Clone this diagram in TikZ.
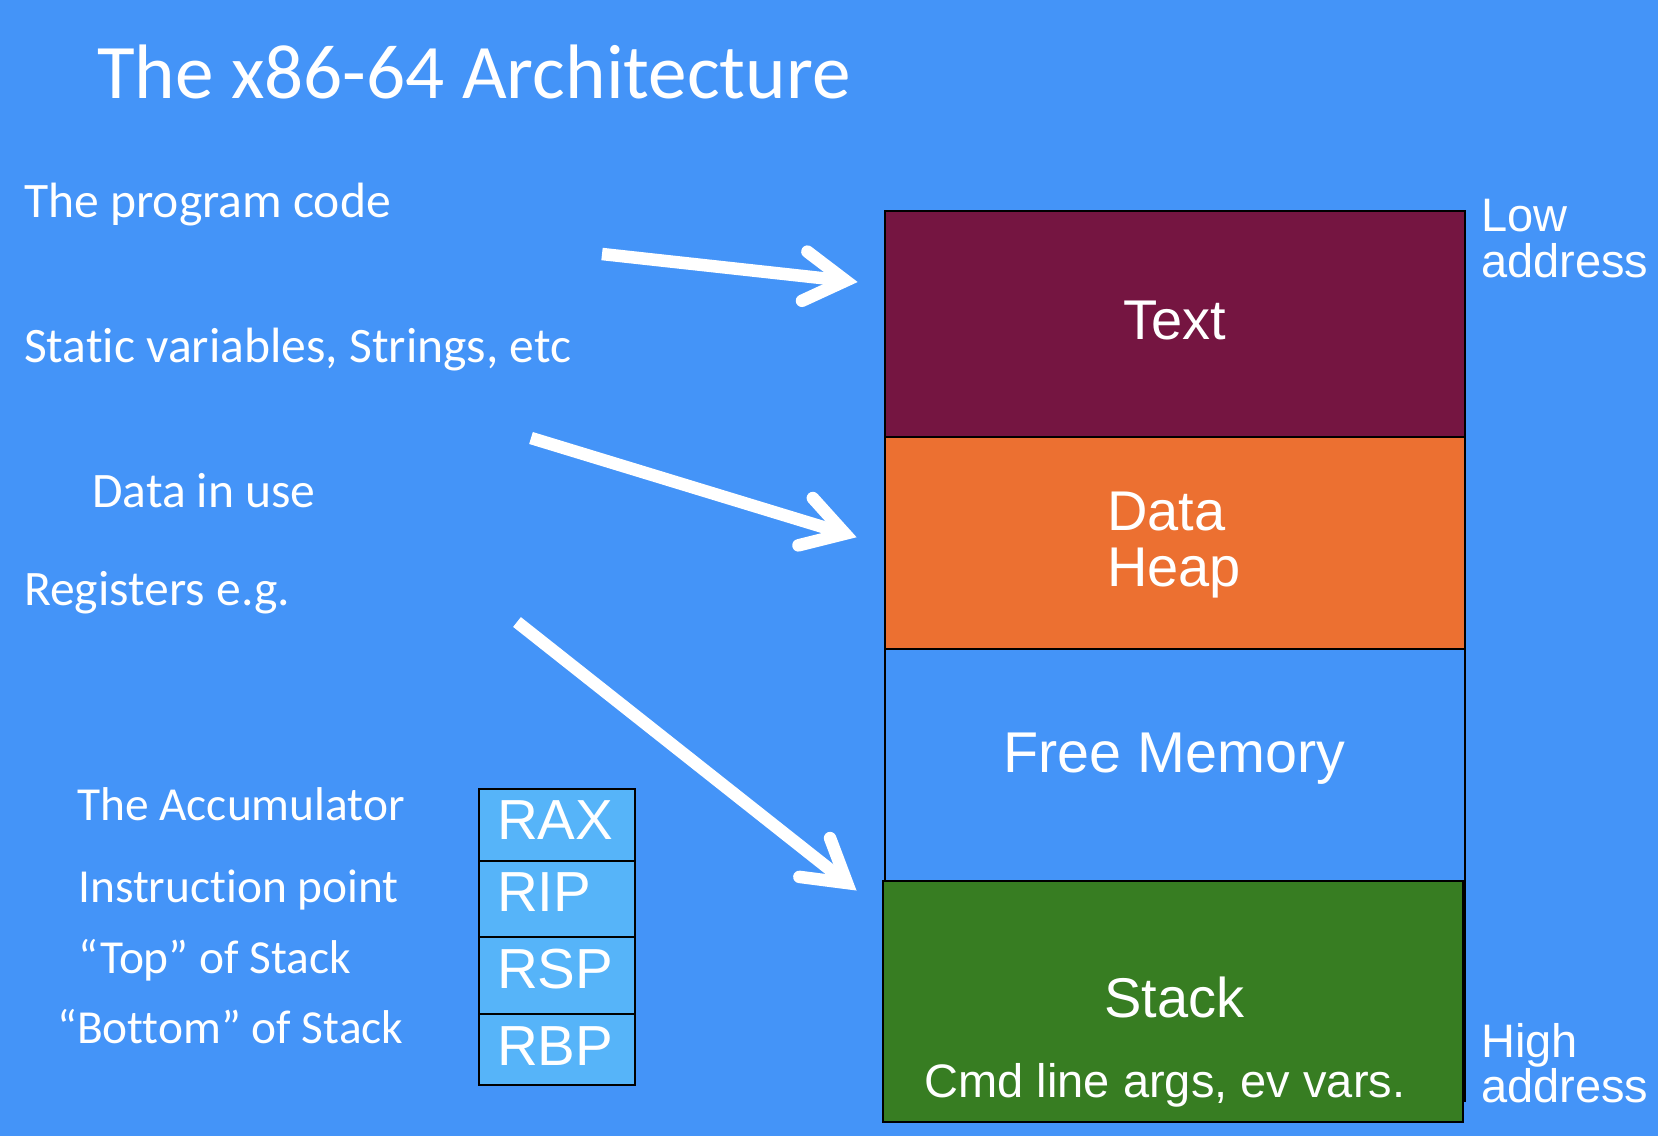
\documentclass[tikz,border=0pt]{standalone}
\usepackage{fontspec}
\setmainfont{Carlito}[Ligatures=NoCommon]
\newfontfamily\arialfont{Liberation Sans}
\usetikzlibrary{calc}

\definecolor{slidebg}{HTML}{4494F8}
\definecolor{textseg}{HTML}{751541}
\definecolor{dataseg}{HTML}{EC7031}
\definecolor{freeseg}{HTML}{4494F8}
\definecolor{stackseg}{HTML}{377D22}
\definecolor{regblue}{HTML}{56B4F9}

\tikzset{
  segbox/.style={draw=black, line width=2pt, anchor=north west, inner sep=0pt, outer sep=0pt},
  regbox/.style={draw=black, line width=2pt, fill=regblue, anchor=north west,
                 inner sep=0pt, outer sep=0pt, minimum width=156pt},
  titlelbl/.style={text=white, inner sep=0pt, anchor=base west, font=\fontsize{77.2pt}{92pt}\selectfont},
  leftlbl/.style={text=white, inner sep=0pt, anchor=base west, font=\fontsize{49.6pt}{60pt}\selectfont},
  reglist/.style={text=white, inner sep=0pt, anchor=base west, font=\fontsize{47.4pt}{57pt}\selectfont},
  seglbl/.style={text=white, inner sep=0pt, anchor=base, font=\arialfont\fontsize{56pt}{67pt}\selectfont},
  seglblw/.style={seglbl, anchor=base west},
  smalllbl/.style={text=white, inner sep=0pt, anchor=base, font=\arialfont\fontsize{47pt}{56pt}\selectfont},
  addrlbl/.style={smalllbl, anchor=base west},
  reglbl/.style={text=white, inner sep=0pt, anchor=base west, font=\arialfont\fontsize{56.5pt}{68pt}\selectfont},
  shaft/.style={draw=white, line width=12.5pt},
  barb/.style={draw=white, line width=12.5pt, line cap=round, line join=miter, miter limit=10},
}

\begin{document}
\begin{tikzpicture}[x=1pt, y=-1pt]
  % slide background
  \fill[slidebg] (0,0) rectangle (1658,1136);
  \useasboundingbox (0,0) rectangle (1658,1136);

  % title
  \node[titlelbl] (title) at (97,98) {The x86-64 Architecture};

  % descriptions on the left
  \node[leftlbl] (progcode) at (24,217) {The program code};
  \node[leftlbl] (statics)  at (24,362) {Static variables, Strings, etc};
  \node[leftlbl] (datause)  at (92,507) {Data in use};
  \node[leftlbl] (regs)     at (24,605) {Registers e.g.};

  \node[reglist] (accum) at (77,820)  {The Accumulator};
  \node[reglist] (instr) at (78,902)  {Instruction point};
  \node[reglist] (topst) at (78,973)  {“Top” of Stack};
  \node[reglist] (botst) at (57,1043) {“Bottom” of Stack};

  % register table
  \node[regbox, minimum height=72pt]   (rax) at (479,789)    {};
  \node[regbox, minimum height=75.6pt] (rip) at (479,861)    {};
  \node[regbox, minimum height=77.1pt] (rsp) at (479,936.6)  {};
  \node[regbox, minimum height=70.9pt] (rbp) at (479,1013.7) {};
  \node[reglbl] (raxt) at ([xshift=18pt, yshift=-50.5pt]rax.north west) {RAX};
  \node[reglbl] (ript) at ([xshift=18pt, yshift=-50.5pt]rip.north west) {RIP};
  \node[reglbl] (rspt) at ([xshift=18pt, yshift=-51.4pt]rsp.north west) {RSP};
  \node[reglbl] (rbpt) at ([xshift=18pt, yshift=-51.3pt]rbp.north west) {RBP};

  % memory layout column
  \node[segbox, fill=textseg,  minimum width=580.5pt, minimum height=226pt] (text)  at (884.5,211) {};
  \node[segbox, fill=dataseg,  minimum width=580.5pt, minimum height=212pt] (data)  at (884.5,437) {};
  \node[segbox, fill=freeseg,  minimum width=580.5pt, minimum height=232pt] (free)  at (884.5,649) {};
  \coordinate (colend) at (1465,1102);
  \draw[black, line width=2pt] (free.south east) -- (colend);
  \node[segbox, fill=stackseg, minimum width=580.5pt, minimum height=241pt] (stack) at (882.5,881) {};

  \node[seglbl]  (textlbl)  at (1174.5,339) {Text};
  \node[seglblw] (datalbl)  at (1107,530)   {Data};
  \node[seglblw] (heaplbl)  at (1107,586)   {Heap};
  \node[seglbl, font=\arialfont\fontsize{57.5pt}{69pt}\selectfont] (freelbl) at (1174.5,772) {Free Memory};
  \node[seglbl]  (stacklbl) at (1174.5,1017) {Stack};
  \node[smalllbl] (cmdlbl)  at (1165,1097)  {Cmd line args, ev vars.};

  % address direction
  \node[addrlbl] (lowa)  at (1481,231)  {Low};
  \node[addrlbl] (lowb)  at (1481,277)  {address};
  \node[addrlbl] (higha) at (1481,1057) {High};
  \node[addrlbl] (highb) at (1481,1102) {address};

  % arrows
  \coordinate (t1) at (602,254);  \coordinate (h1) at (845.6,280.7);
  \coordinate (t2) at (531,438);  \coordinate (h2) at (845,533.7);
  \coordinate (t3) at (517,622);  \coordinate (h3) at (847,883);

  \foreach \t/\h in {t1/h1, t2/h2, t3/h3} {
    \draw[shaft] (\t) -- (\h);
    \draw[barb] ($(\h)!48pt!31:(\t)$) -- (\h) -- ($(\h)!48pt!-31:(\t)$);
  }
\end{tikzpicture}
\end{document}
